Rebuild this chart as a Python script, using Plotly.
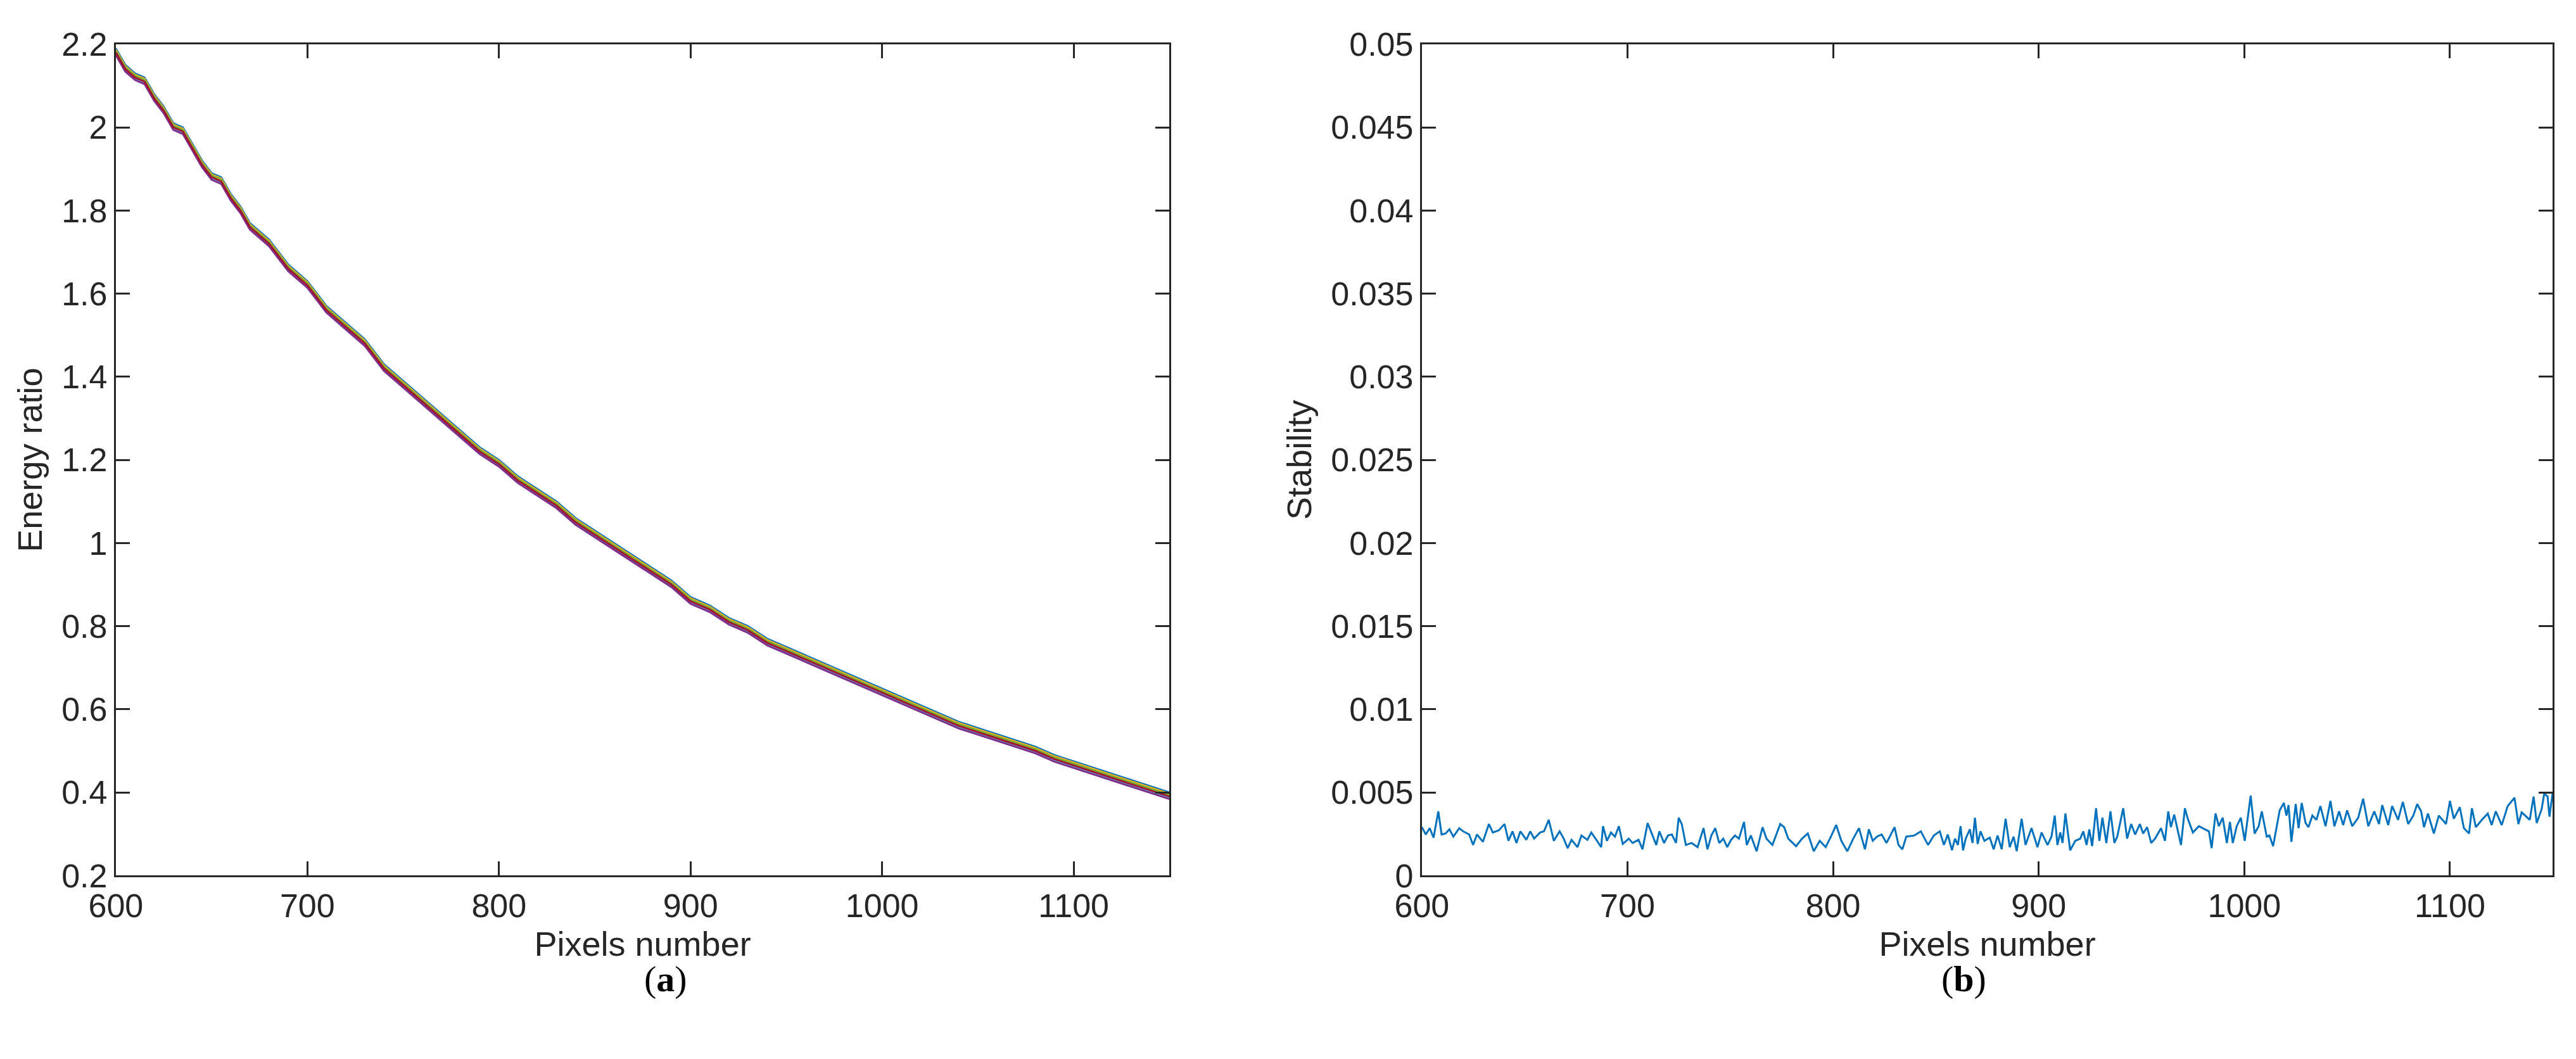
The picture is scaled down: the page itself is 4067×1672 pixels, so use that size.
import plotly.graph_objects as go
from plotly.subplots import make_subplots

# (a) energy ratio vs pixel number
pix_a = [600, 605, 610, 615, 620, 625, 630, 635, 640, 645, 650, 655, 660, 665, 670, 680, 690, 700,
         710, 720, 730, 740, 750, 760, 770, 780, 790, 800, 810, 820, 830, 840, 850, 860, 870, 880,
         890, 900, 910, 920, 930, 940, 950, 960, 970, 980, 990, 1000, 1010, 1020, 1030, 1040, 1050,
         1060, 1070, 1080, 1090, 1100, 1110, 1120, 1130, 1140, 1150]
ratio_a = [2.18, 2.14, 2.12, 2.11, 2.07, 2.04, 2.00, 1.99, 1.95, 1.91, 1.88, 1.87, 1.83, 1.80, 1.76,
           1.72, 1.66, 1.62, 1.56, 1.52, 1.48, 1.42, 1.38, 1.34, 1.30, 1.26, 1.22, 1.19, 1.15, 1.12,
           1.09, 1.05, 1.02, 0.99, 0.96, 0.93, 0.90, 0.86, 0.84, 0.81, 0.79, 0.76, 0.74, 0.72, 0.70,
           0.68, 0.66, 0.64, 0.62, 0.60, 0.58, 0.56, 0.545, 0.53, 0.515, 0.50, 0.48, 0.465, 0.45,
           0.435, 0.42, 0.405, 0.39]
series_colors = ["#0072BD", "#EDB120", "#77AC30", "#4DBEEE", "#7E2F8E", "#A2142F"]
series_offsets = [0.010, 0.007, 0.004, -0.004, -0.006, 0.0]

# (b) stability vs pixel number
pix_b = [600, 601.9, 603.8, 605.7, 608, 609.6, 611.5, 613.4, 615.3, 618.2, 620.1, 623, 624.9, 626.8,
         629.7, 632.6, 634.5, 637.4, 640.2, 642.1, 644.1, 646, 647.9, 650.8, 652.7, 654.6, 657.5,
         659.4, 661.7, 664.2, 667, 669, 670.9, 672.8, 675.7, 677.6, 680.5, 682.4, 685.2, 687.2,
         688.1, 690, 692, 693.9, 695.8, 697.7, 700.6, 702.5, 705.4, 707.3, 709.8, 712.1, 714,
         715.5, 717.8, 719.7, 721.6, 723.6, 724.9, 726.4, 728.4, 731.2, 734.1, 737, 738.9, 740.8,
         742.7, 744.6, 746.6, 748.5, 750.4, 752.3, 754.2, 756.7, 758, 760, 762.8, 765.7, 767.6,
         770.5, 774.3, 776.2, 778.2, 782, 784.9, 787.7, 790.6, 793.5, 796.4, 799.2, 801.5, 804,
         806.9, 809.8, 812.6, 815.5, 817.4, 819.3, 821.3, 823.6, 826, 829.9, 831.8, 833.7, 835.6,
         839.5, 842.7, 846.2, 849,
         851.9, 853.9, 855.8, 857.8, 859.3, 860.7, 862, 863.2, 864.5, 866.5, 867.8, 869, 870.3,
         871.7, 873.6, 876.2, 878.1, 880, 882, 883.9, 885.9, 887.8, 889.3, 891.7, 893.6, 896.5,
         899.4, 901.4, 904.3, 906.2, 907.8, 909.1, 910.5, 911.6, 913, 915.3, 917.8, 920.2, 921.7,
         923.3, 924.6, 926, 927.9, 929.5, 931, 932.9, 934.9, 936.8, 938.2, 941.1, 943, 945, 946.9,
         949.2, 950.8, 952.7, 954.7, 956.6, 959.5, 961.4, 963, 964.3, 965.9, 967.2, 969.2, 971.1,
         972.5, 975, 977.9, 980.8, 982.8, 984.1, 986, 987.6, 989.5, 991.5, 993, 994.4, 996.3,
         998.3, 1000.2, 1003.1, 1005, 1007, 1008.5, 1010.9, 1012.2, 1014, 1015.7, 1017.2, 1019.2,
         1020.5, 1021.5, 1022.9, 1025, 1026.4, 1027.9, 1029.8, 1031.2, 1033.1, 1035.1, 1037,
         1039.5, 1041.9, 1043.8, 1046.1, 1048.1, 1050, 1052.5, 1055.4, 1057.8, 1060.3, 1063.2,
         1065.5, 1067.1, 1070, 1071.9, 1074.8, 1077.1, 1079.7, 1082.2, 1084.1, 1086, 1087.4,
         1089.3, 1092.2, 1094.6, 1098.1, 1100, 1101.9, 1104.8, 1106.8, 1109.3, 1110.7, 1112.6,
         1115.5, 1118.4, 1120.3, 1122.3, 1125.2, 1128.1, 1131.4, 1133.3, 1134.9, 1138.8, 1140.7,
         1142.2, 1144.6, 1145.9, 1147.5, 1148.4, 1150]
stab_b = [.00291, .00247, .00285, .00228, .00386, .00247, .00253, .00278, .00234, .00285, .00266,
          .00247, .00184, .00247, .00203, .00310, .00259, .00272, .00310, .00209, .00266, .00196,
          .00266, .00215, .00266, .00222, .00259, .00266, .00335, .00209, .00266, .00222, .00165,
          .00215, .00171, .00241, .00215, .00259, .00209, .00171, .00297, .00209, .00259, .00234,
          .00297, .00190, .00222, .00196, .00215, .00158, .00316, .00241, .00184, .00266, .00196,
          .00241, .00247, .00196, .00348, .00310, .00184, .00196, .00171, .00285, .00158, .00241,
          .00285, .00196, .00222, .00171, .00215, .00241, .00222, .00323, .00184, .00241, .00146,
          .00291, .00222, .00184, .00310, .00291, .00222, .00177, .00222, .00253, .00146, .00209,
          .00171, .00241, .00304, .00209, .00146, .00222, .00285, .00158, .00278, .00209, .00234,
          .00247, .00196, .00291, .00184, .00158, .00234, .00241, .00266, .00184, .00241,
          .00266, .00184, .00247, .00152, .00222, .00184, .00297, .00152, .00222, .00278, .00196,
          .00348, .00190, .00266, .00209, .00228, .00158, .00241, .00158, .00342, .00171, .00234,
          .00146, .00342, .00184, .00285, .00171, .00259, .00184, .00234, .00361, .00184, .00259,
          .00196, .00373, .00152, .00209, .00222, .00266, .00184, .00278, .00177, .00405, .00209,
          .00348, .00196, .00386, .00196, .00234, .00405, .00222, .00310, .00247, .00310, .00253,
          .00291, .00196, .00222, .00285, .00209, .00386, .00291, .00367, .00291, .00184, .00405,
          .00342, .00259, .00297, .00278, .00266, .00165, .00373, .00297, .00348, .00196, .00323,
          .00196, .00297, .00348, .00209, .00481, .00253, .00297, .00386, .00234, .00241, .00177,
          .00297, .00392, .00437, .00361, .00424, .00203, .00430, .00285, .00437, .00316, .00291,
          .00361, .00335, .00418, .00297, .00449, .00297, .00386, .00304, .00392, .00297, .00348,
          .00462, .00297, .00386, .00310, .00424, .00304, .00418, .00335, .00443, .00310, .00361,
          .00430, .00386, .00291, .00373, .00253, .00361, .00310, .00449, .00342, .00411, .00285,
          .00253, .00405, .00291, .00335, .00373, .00304, .00386, .00304, .00418, .00468, .00310,
          .00380, .00335, .00475, .00316, .00399, .00494, .00475, .00354, .00500]

FONT = "Liberation Sans"

fig = make_subplots(rows=1, cols=2)

for color, off in zip(series_colors, series_offsets):
    fig.add_trace(go.Scatter(x=pix_a, y=[v + off for v in ratio_a], mode="lines",
                             line=dict(color=color, width=3), showlegend=False), row=1, col=1)

fig.add_trace(go.Scatter(x=pix_b, y=stab_b, mode="lines",
                         line=dict(color="#0072BD", width=3), showlegend=False), row=1, col=2)

axis_style = dict(showline=True, mirror="allticks", linecolor="#262626", linewidth=3,
                  ticks="inside", ticklen=22, tickwidth=3, tickcolor="#262626",
                  showgrid=False, zeroline=False, automargin=False,
                  tickfont=dict(family=FONT, size=52, color="#262626"),
                  title_font=dict(family=FONT, size=54, color="#262626"))

xticks = [600, 700, 800, 900, 1000, 1100]
fig.update_xaxes(axis_style, range=[600, 1150], tickvals=xticks, title_text="Pixels number",
                 title_standoff=14)
fig.update_xaxes(domain=[0.043, 0.452], row=1, col=1)
fig.update_xaxes(domain=[0.550, 0.989], row=1, col=2)
fig.update_yaxes(axis_style, domain=[0.178, 0.963])
fig.update_yaxes(range=[0.2, 2.2], dtick=0.2, tickformat="~g", title_text="Energy ratio",
                 title_standoff=14, row=1, col=1)
fig.update_yaxes(range=[0, 0.05], dtick=0.005, tickformat="~g", title_text="Stability",
                 title_standoff=14, row=1, col=2)

for label, xpos in [("a", 0.2475), ("b", 0.7695)]:
    fig.add_annotation(text="(<b>" + label + "</b>)", x=xpos, y=0.06, xref="paper", yref="paper",
                       showarrow=False, font=dict(family="Liberation Serif", size=58, color="#000000"))

fig.update_layout(width=4067, height=1672, plot_bgcolor="white", paper_bgcolor="white",
                  margin=dict(l=0, r=0, t=0, b=0))

fig.write_html("out.html")
